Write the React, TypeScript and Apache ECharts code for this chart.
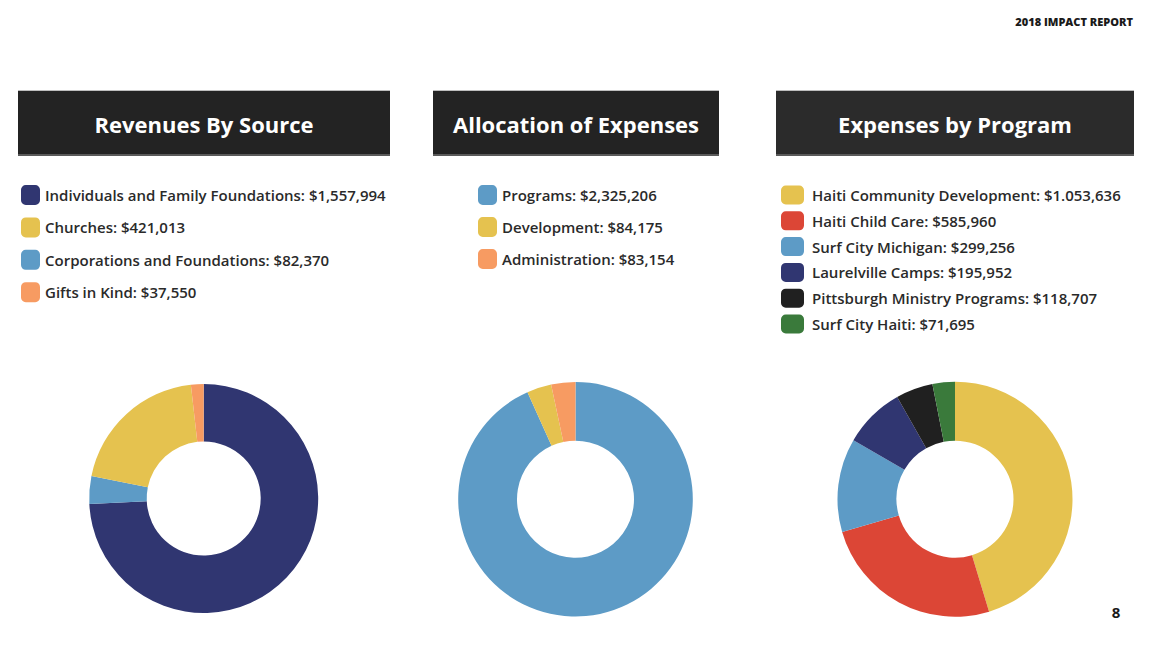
import React, { useEffect, useRef } from "react";
import * as echarts from "echarts";

const revenueNames = [
  "Individuals and Family Foundations",
  "Corporations and Foundations",
  "Churches",
  "Gifts in Kind",
];
const revenueValues = [1557994, 82370, 421013, 37550];
const revenueLabels = ["$1,557,994", "$82,370", "$421,013", "$37,550"];
const revenueColors = ["#303671", "#5d9bc6", "#e5c24f", "#f79b62"];
const revenueLegendOrder = [
  "Individuals and Family Foundations",
  "Churches",
  "Corporations and Foundations",
  "Gifts in Kind",
];

const allocNames = ["Programs", "Development", "Administration"];
const allocValues = [2325206, 84175, 83154];
const allocLabels = ["$2,325,206", "$84,175", "$83,154"];
const allocColors = ["#5d9bc6", "#e5c24f", "#f79b62"];

const programNames = [
  "Haiti Community Development",
  "Haiti Child Care",
  "Surf City Michigan",
  "Laurelville Camps",
  "Pittsburgh Ministry Programs",
  "Surf City Haiti",
];
const programValues = [1053636, 585960, 299256, 195952, 118707, 71695];
const programLabels = ["$1.053,636", "$585,960", "$299,256", "$195,952", "$118,707", "$71,695"];
const programColors = ["#e5c24f", "#dc4636", "#5d9bc6", "#303671", "#202020", "#3a7a3b"];

const titles = ["Revenues By Source", "Allocation of Expenses", "Expenses by Program"];

const labelMap: Record<string, string> = {};
revenueNames.forEach((n, i) => (labelMap[n] = revenueLabels[i]));
allocNames.forEach((n, i) => (labelMap[n] = allocLabels[i]));
programNames.forEach((n, i) => (labelMap[n] = programLabels[i]));

const FONT = "'Open Sans', 'Noto Sans', sans-serif";

function pieData(names: string[], values: number[], colors: string[]) {
  return names.map((n, i) => ({ name: n, value: values[i], itemStyle: { color: colors[i] } }));
}

export default function App() {
  const ref = useRef<HTMLDivElement>(null);
  useEffect(() => {
    if (!ref.current) return;
    const chart = echarts.init(ref.current, null, { renderer: "svg" });
    const legendBase = {
      orient: "vertical" as const,
      icon: "roundRect",
      selectedMode: false,
      formatter: (n: string) => `${n}: ${labelMap[n]}`,
      padding: 0,
    };
    const textStyle = (padLeft: number) => ({
      fontFamily: FONT,
      fontSize: 15,
      fontWeight: 600,
      color: "#2a2a2a",
      padding: [0, 0, 0, padLeft],
    });
    const headerBox = (x: number, w: number, color: string, title: string) => ({
      type: "group",
      children: [
        { type: "rect", shape: { x, y: 90, width: w, height: 65 }, style: { fill: color } },
        { type: "rect", shape: { x, y: 90, width: w, height: 1 }, style: { fill: "#bdbdbd" } },
        { type: "rect", shape: { x, y: 154, width: w, height: 2 }, style: { fill: "#5a5a5a" } },
        {
          type: "text",
          x: x + w / 2,
          y: 123.5,
          style: {
            text: title,
            fill: "#ffffff",
            font: `bold 22px ${FONT}`,
            textAlign: "center",
            textVerticalAlign: "middle",
          },
        },
      ],
    });
    const pieBase = {
      type: "pie" as const,
      startAngle: 90,
      clockwise: true,
      label: { show: false },
      labelLine: { show: false },
      silent: true,
      emphasis: { disabled: true },
      itemStyle: { borderWidth: 0 },
    };
    chart.setOption({
      animation: false,
      backgroundColor: "#ffffff",
      legend: [
        {
          ...legendBase,
          left: 21,
          top: 185,
          itemWidth: 19,
          itemHeight: 20,
          itemGap: 12.4,
          textStyle: textStyle(0),
          data: revenueLegendOrder,
        },
        {
          ...legendBase,
          left: 478,
          top: 185,
          itemWidth: 19,
          itemHeight: 20,
          itemGap: 12.0,
          textStyle: textStyle(0),
          data: allocNames,
        },
        {
          ...legendBase,
          left: 781,
          top: 185.5,
          itemWidth: 23,
          itemHeight: 19,
          itemGap: 6.8,
          textStyle: textStyle(3),
          data: programNames,
        },
      ],
      graphic: [
        headerBox(18, 372, "#232323", titles[0]),
        headerBox(433, 286, "#232323", titles[1]),
        headerBox(776, 358, "#2b2b2b", titles[2]),
        {
          type: "text",
          x: 1133,
          y: 21,
          style: {
            text: "2018 IMPACT REPORT",
            fill: "#1a1a1a",
            font: `800 11px ${FONT}`,
            textAlign: "right",
            textVerticalAlign: "middle",
          },
        },
        {
          type: "text",
          x: 1116,
          y: 612,
          style: {
            text: "8",
            fill: "#1a1a1a",
            font: `bold 15px ${FONT}`,
            textAlign: "center",
            textVerticalAlign: "middle",
          },
        },
      ],
      series: [
        {
          ...pieBase,
          name: "Revenues By Source",
          center: [203.7, 498.5],
          radius: [57, 114.5],
          data: pieData(revenueNames, revenueValues, revenueColors),
        },
        {
          ...pieBase,
          name: "Allocation of Expenses",
          center: [575.5, 499.2],
          radius: [58.5, 117.3],
          data: pieData(allocNames, allocValues, allocColors),
        },
        {
          ...pieBase,
          name: "Expenses by Program",
          center: [955, 499.2],
          radius: [58.5, 117.5],
          data: pieData(programNames, programValues, programColors),
        },
      ],
    });
    return () => chart.dispose();
  }, []);
  return <div ref={ref} style={{ width: 1152, height: 648, position: "absolute", left: 0, top: 0 }} />;
}
